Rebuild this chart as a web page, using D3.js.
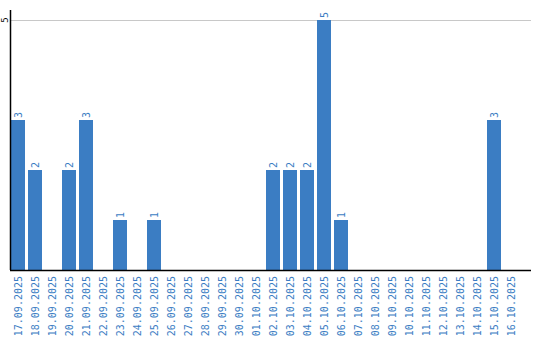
<!DOCTYPE html>
<html><head><meta charset="utf-8">
<script src="https://cdn.jsdelivr.net/npm/d3@7"></script>
<style>html,body{margin:0;padding:0;background:#fff;}svg{display:block;}</style>
</head><body>
<svg id="c" width="540" height="340"></svg>
<script>
const categories = ["17.09.2025","18.09.2025","19.09.2025","20.09.2025","21.09.2025","22.09.2025","23.09.2025","24.09.2025","25.09.2025","26.09.2025","27.09.2025","28.09.2025","29.09.2025","30.09.2025","01.10.2025","02.10.2025","03.10.2025","04.10.2025","05.10.2025","06.10.2025","07.10.2025","08.10.2025","09.10.2025","10.10.2025","11.10.2025","12.10.2025","13.10.2025","14.10.2025","15.10.2025","16.10.2025"];
const values = [3,2,0,2,3,0,1,0,1,0,0,0,0,0,0,2,2,2,5,1,0,0,0,0,0,0,0,0,3,0];
const yTicks = [5];

const svg = d3.select("#c");
const mLeft = 11, mBase = 270, mTop = 20, mRight = 531;
const x = d3.scaleBand().domain(categories).range([mLeft, mLeft + 17*categories.length])
  .paddingInner(3/17).paddingOuter(3/34).align(0);
const y = d3.scaleLinear().domain([0, 5]).range([mBase, mTop]);
const blue = "#3b7dc3";

// grid
svg.append("g").selectAll("line").data(yTicks).join("line")
  .attr("x1", mLeft).attr("x2", mRight).attr("y1", d => y(d) + 0.5).attr("y2", d => y(d) + 0.5)
  .attr("stroke", "#c8c8c8").attr("stroke-width", 1);

// bars
svg.append("g").selectAll("rect").data(values).join("rect")
  .attr("x", (d, i) => x(categories[i])).attr("width", x.bandwidth())
  .attr("y", d => y(d)).attr("height", d => mBase - y(d))
  .attr("fill", blue).attr("shape-rendering", "crispEdges");

// value labels
svg.append("g").selectAll("text").data(values.map((v, i) => ({v, c: categories[i]})).filter(d => d.v > 0)).join("text")
  .attr("transform", d => `translate(${x(d.c) + x.bandwidth()/2 + 3.5},${y(d.v) - 2}) rotate(-90)`)
  .attr("font-family", "DejaVu Sans Mono, monospace").attr("font-size", 10)
  .attr("fill", blue).text(d => d.v);

// axes lines
svg.append("line").attr("x1", 10.5).attr("x2", 10.5).attr("y1", 10).attr("y2", mBase)
  .attr("stroke", "#000").attr("stroke-width", 1.5);
svg.append("line").attr("x1", 10).attr("x2", mRight).attr("y1", mBase + 0.5).attr("y2", mBase + 0.5)
  .attr("stroke", "#000").attr("stroke-width", 1.5);

// y tick labels
svg.append("g").selectAll("text").data(yTicks).join("text")
  .attr("transform", d => `translate(8,${y(d)}) rotate(-90)`)
  .attr("text-anchor", "middle")
  .attr("font-family", "DejaVu Sans Mono, monospace").attr("font-size", 9)
  .attr("fill", "#000").text(d => d);

// x tick labels
svg.append("g").selectAll("text").data(categories).join("text")
  .attr("transform", d => `translate(${x(d) + x.bandwidth()/2 + 4},${mBase + 6}) rotate(-90)`)
  .attr("text-anchor", "end")
  .attr("font-family", "DejaVu Sans Mono, monospace").attr("font-size", 10)
  .attr("fill", blue).text(d => d);
</script>
</body></html>
